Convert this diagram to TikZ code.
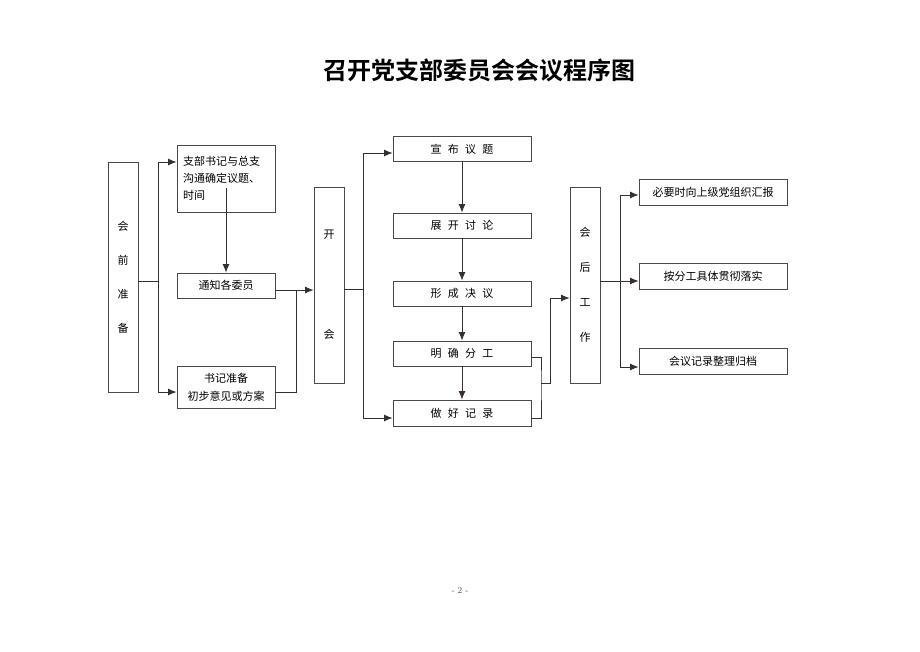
\documentclass[tikz,border=0pt]{standalone}
\usepackage{fontspec}
\usetikzlibrary{arrows.meta}
\newfontfamily\cjk[BoldFont={Noto Sans CJK SC Bold}]{Noto Sans CJK SC}
\definecolor{boxcol}{RGB}{75,70,75}
\definecolor{lnkcol}{RGB}{55,45,55}
\newcommand\widegap{\spaceskip=6.3pt\relax}

\begin{document}
\begin{tikzpicture}
      [%%%%%%%%%%%%%%%%%%%%%%%%%%%%%%
      x=1pt,y=-1pt,
      box/.style={rectangle,draw=boxcol,line width=0.9pt,inner sep=0pt,
                  font=\cjk\fontsize{11}{14}\selectfont},
      stepbox/.style={box,minimum width=138pt,minimum height=25pt,
                  font=\cjk\fontsize{11}{14}\selectfont\widegap},
      tall/.style={box,minimum width=30pt,align=center},
      link/.style={draw=lnkcol,line width=0.9pt},
      arr/.style={link,-{Latex[length=8.5pt,width=7pt]}},
      ]%%%%%%%%%%%%%%%%%%%%%%%%%%%%%%
      \useasboundingbox (0,0) rectangle (920,651);

      \node (title) at (479,70) {\cjk\bfseries\fontsize{24}{26}\selectfont 召开党支部委员会会议程序图};

      % before the meeting
      \node[tall,minimum height=230pt,font=\cjk\fontsize{11}{34}\selectfont] (pre) at (123,277) {会\\前\\准\\备};
      \node[box,minimum width=98pt,minimum height=67pt,align=left,text width=86pt,
            font=\cjk\fontsize{11}{17}\selectfont] (talk) at (226,178.5) {支部书记与总支\\沟通确定议题、\\时间};
      \node[box,minimum width=98pt,minimum height=25pt] (notify) at (226,285.5) {通知各委员};
      \node[box,minimum width=98pt,minimum height=42pt,align=center,
            font=\cjk\fontsize{11}{18}\selectfont] (prep) at (226,387) {书记准备\\初步意见或方案};

      % the meeting
      \node[tall,minimum height=196pt,font=\cjk\fontsize{11}{100}\selectfont] (open) at (329,285) {开\\会};
      \node[stepbox] (s1) at (462,149) {宣 布 议 题};
      \node[stepbox] (s2) at (462,225.5) {展 开 讨 论};
      \node[stepbox] (s3) at (462,293.5) {形 成 决 议};
      \node[stepbox] (s4) at (462,353.5) {明 确 分 工};
      \node[stepbox,minimum height=26pt] (s5) at (462,413) {做 好 记 录};

      % after the meeting
      \node[tall,minimum height=196pt,font=\cjk\fontsize{11}{35}\selectfont] (post) at (585,285) {会\\后\\工\\作};
      \node[box,minimum width=148pt,minimum height=26pt] (r1) at (713,192) {必要时向上级党组织汇报};
      \node[box,minimum width=148pt,minimum height=26pt] (r2) at (713,276.5) {按分工具体贯彻落实};
      \node[box,minimum width=148pt,minimum height=26pt] (r3) at (713,361.5) {会议记录整理归档};

      \node[text=black!70,font=\fontsize{9}{10}\selectfont] (page) at (460,590) {- 2 -};

      % connectors
      \coordinate (ja) at (158,281);
      \draw[link] (pre.east |- ja) -- (ja);
      \draw[arr] (ja) |- ([yshift=16.5pt]talk.west);
      \draw[arr] (ja) |- ([yshift=-5pt]prep.west);
      \draw[arr] ([yshift=-9.5pt]talk.center) -- (notify.north);

      \coordinate (jb) at (296,290);
      \draw[arr] (notify.east |- jb) -- (open.west |- jb);
      \draw[link] ([yshift=-5pt]prep.east) -| (jb);

      \coordinate (jc) at (363,289);
      \draw[link] (open.east |- jc) -- (jc);
      \draw[arr] (jc) |- ([yshift=-4pt]s1.west);
      \draw[arr] (jc) |- ([yshift=-5pt]s5.west);
      \foreach \a/\b in {s1/s2,s2/s3,s3/s4,s4/s5}
        \draw[arr] (\a) -- (\b);

      \coordinate (jd) at (541,383);
      \coordinate (je) at (550,298);
      \draw[link] ([yshift=-3.5pt]s4.east) -| (jd) |- ([yshift=-5pt]s5.east);
      \draw[arr] (jd) -| (je) -- (post.west |- je);

      \coordinate (jf) at (620,281);
      \draw[link] (post.east |- jf) -- (jf);
      \draw[arr] (jf) |- ([yshift=-3pt]r1.west);
      \draw[arr] (jf) -- (r2.west |- jf);
      \draw[arr] (jf) |- ([yshift=-5.5pt]r3.west);
    \end{tikzpicture}
\end{document}
